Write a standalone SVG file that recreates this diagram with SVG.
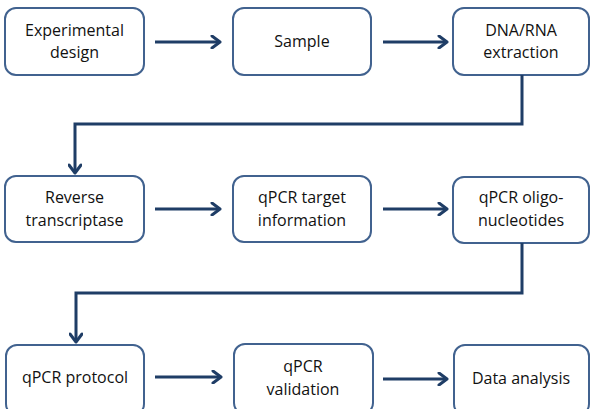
<svg xmlns="http://www.w3.org/2000/svg" width="590" height="409" viewBox="0 0 590 409">
<defs>
<marker id="ah" viewBox="0 0 12 14" refX="10" refY="7" markerWidth="12" markerHeight="14" markerUnits="userSpaceOnUse" orient="auto">
<polyline points="2,1 10,7 2,13" fill="none" stroke="#1f3d66" stroke-width="3" stroke-linecap="round" stroke-linejoin="round"/>
</marker>
<style>
.box{fill:#fff;stroke:#41628f;stroke-width:2}
.t{font-family:"Open Sans","Liberation Sans",Arial,sans-serif;font-size:16px;fill:#111;text-anchor:middle}
.c{fill:none;stroke:#1f3d66;stroke-width:3;marker-end:url(#ah)}
</style>
</defs>
<rect width="590" height="409" fill="#fff"/>
<g id="n1"><rect class="box" x="5" y="8" width="139" height="67" rx="11"/><text class="t" x="74.5" y="36">Experimental</text><text class="t" x="74.5" y="58">design</text></g>
<g id="n2"><rect class="box" x="233" y="8" width="138" height="67" rx="11"/><text class="t" x="302" y="47">Sample</text></g>
<g id="n3"><rect class="box" x="453" y="8" width="136" height="67" rx="11"/><text class="t" x="521" y="36">DNA/RNA</text><text class="t" x="521" y="58">extraction</text></g>
<g id="n4"><rect class="box" x="5" y="176" width="139" height="66" rx="11"/><text class="t" x="74.5" y="203">Reverse</text><text class="t" x="74.5" y="226">transcriptase</text></g>
<g id="n5"><rect class="box" x="233" y="176" width="138" height="66" rx="11"/><text class="t" x="302" y="203">qPCR target</text><text class="t" x="302" y="226">information</text></g>
<g id="n6"><rect class="box" x="453" y="177" width="136" height="66" rx="11"/><text class="t" x="521" y="203">qPCR oligo-</text><text class="t" x="521" y="226">nucleotides</text></g>
<g id="n7"><rect class="box" x="6" y="345" width="138" height="70" rx="11"/><text class="t" x="75" y="383">qPCR protocol</text></g>
<g id="n8"><rect class="box" x="234" y="344" width="139" height="70" rx="11"/><text class="t" x="303" y="372">qPCR</text><text class="t" x="303" y="395">validation</text></g>
<g id="n9"><rect class="box" x="454" y="345" width="135" height="70" rx="11"/><text class="t" x="521" y="384">Data analysis</text></g>
<g id="connectors">
<line class="c" x1="155" y1="42" x2="220" y2="42"/>
<line class="c" x1="383" y1="42" x2="447" y2="42"/>
<polyline class="c" points="522,75 522,124 75,124 75,173"/>
<line class="c" x1="155" y1="209" x2="220" y2="209"/>
<line class="c" x1="383" y1="209" x2="447" y2="209"/>
<polyline class="c" points="522,243 522,293 76,293 76,342"/>
<line class="c" x1="155" y1="377" x2="221" y2="377"/>
<line class="c" x1="383" y1="379" x2="447" y2="379"/>
</g>
</svg>
